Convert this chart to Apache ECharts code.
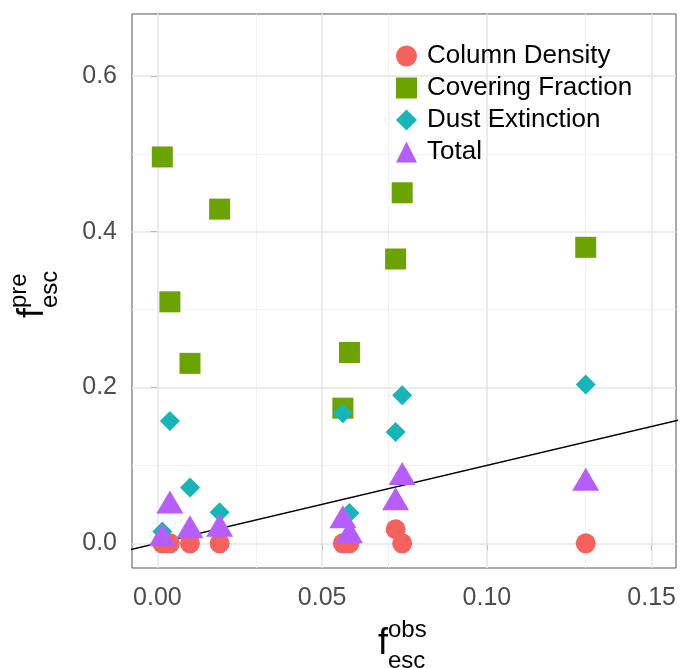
<!DOCTYPE html>
<html>
<head>
<meta charset="utf-8">
<title>f_esc predicted vs observed</title>
<script src="https://cdn.jsdelivr.net/npm/echarts@6/dist/echarts.min.js"></script>
<style>
  html, body { margin: 0; padding: 0; background: #fff; }
  #main { width: 690px; height: 668px; }
</style>
</head>
<body>
<div id="main"></div>
<script>
// observed escape fraction of each object (x)
var fObs = [0.0015, 0.0038, 0.0099, 0.0189, 0.0563, 0.0583, 0.0723, 0.0743, 0.1300];
// predicted escape fractions (y), one array per method
var colDensity  = [0, 0, 0, 0, 0, 0, 0.018, 0, 0];
var covFraction = [0.496, 0.310, 0.231, 0.429, 0.1735, 0.245, 0.365, 0.450, 0.380];
var dustExt     = [0.015, 0.157, 0.0716, 0.040, 0.167, 0.039, 0.143, 0.190, 0.204];
var total       = [0.006, 0.048, 0.016, 0.018, 0.029, 0.0096, 0.052, 0.0845, 0.077];

// 1:1 line
var oneToOne = [[-0.01, -0.01], [0.16, 0.16]];

var xTicks = [0, 0.05, 0.10, 0.15];
var xTickLabels = ['0.00', '0.05', '0.10', '0.15'];
var xMinor = [0.025, 0.075, 0.125];
var yTicks = [0, 0.2, 0.4, 0.6];
var yTickLabels = ['0.0', '0.2', '0.4', '0.6'];
var yMinor = [0.1, 0.3, 0.5];

var FONT = '"Liberation Sans", Arial, Helvetica, sans-serif';

function pairs(ys) {
    return fObs.map(function (x, i) { return [x, ys[i]]; });
}
function lookup(ticks, labels) {
    return function (v) {
        for (var i = 0; i < ticks.length; i++) {
            if (Math.abs(ticks[i] - v) < 1e-9) return labels[i];
        }
        return '';
    };
}

// grid lines as mark lines (major + minor)
var major = {type: 'solid', color: '#E6E6E6', width: 1.6};
var minor = {type: 'solid', color: '#F0F0F0', width: 0.9};
var gridLines = [];
xTicks.forEach(function (v) { gridLines.push({xAxis: v, lineStyle: major}); });
xMinor.forEach(function (v) { gridLines.push({xAxis: v, lineStyle: minor}); });
yTicks.forEach(function (v) { gridLines.push({yAxis: v, lineStyle: major}); });
yMinor.forEach(function (v) { gridLines.push({yAxis: v, lineStyle: minor}); });

// f with superscript and subscript, drawn around the group origin
function mathTitle(sup, sub) {
    return [
        {type: 'text', x: -26, y: 1, style: {text: 'f', fontFamily: FONT, fontSize: 36, fill: '#000', align: 'left', verticalAlign: 'middle'}},
        {type: 'text', x: -16, y: -13, style: {text: sup, fontFamily: FONT, fontSize: 24, fill: '#000', align: 'left', verticalAlign: 'middle'}},
        {type: 'text', x: -16, y: 18, style: {text: sub, fontFamily: FONT, fontSize: 24, fill: '#000', align: 'left', verticalAlign: 'middle'}}
    ];
}

var chart = echarts.init(document.getElementById('main'));

chart.setOption({
    animation: false,
    backgroundColor: '#fff',
    textStyle: {fontFamily: FONT},
    grid: {
        left: 132, top: 14, width: 544, height: 554,
        show: true, borderColor: '#555', borderWidth: 1, backgroundColor: '#fff'
    },
    legend: {
        orient: 'vertical',
        left: 396, top: 43,
        padding: 0,
        itemWidth: 21, itemHeight: 21,
        itemGap: 6,
        textStyle: {fontSize: 26, lineHeight: 21, color: '#000', fontFamily: FONT, padding: [0, 0, 0, 5]},
        data: ['Column Density', 'Covering Fraction', 'Dust Extinction', 'Total']
    },
    xAxis: {
        type: 'value',
        min: -0.0077, max: 0.1574,
        axisLine: {show: false},
        axisTick: {show: true, length: 7, customValues: xTicks, lineStyle: {color: '#333', width: 1}},
        axisLabel: {customValues: xTicks, margin: 18, fontSize: 25, color: '#4D4D4D', formatter: lookup(xTicks, xTickLabels)},
        splitLine: {show: false}
    },
    yAxis: {
        type: 'value',
        min: -0.0317, max: 0.6795,
        axisLine: {show: false},
        axisTick: {show: true, length: 7, customValues: yTicks, lineStyle: {color: '#333', width: 1}},
        axisLabel: {customValues: yTicks, margin: 15, fontSize: 25, color: '#4D4D4D', formatter: lookup(yTicks, yTickLabels)},
        splitLine: {show: false}
    },
    graphic: [
        {type: 'group', x: 404, y: 643, children: mathTitle('obs', 'esc')},
        {type: 'group', x: 32, y: 292, rotation: Math.PI / 2, children: mathTitle('pre', 'esc')}
    ],
    series: [
        {
            name: 'grid',
            type: 'line',
            data: [],
            z: 1,
            markLine: {
                z: 1,
                silent: true,
                symbol: 'none',
                label: {show: false},
                emphasis: {disabled: true},
                data: gridLines
            }
        },
        {
            name: '1:1',
            type: 'line',
            data: oneToOne,
            z: 2,
            showSymbol: false,
            clip: true,
            lineStyle: {color: '#000', width: 1.5},
            silent: true
        },
        {
            name: 'Column Density',
            type: 'scatter',
            z: 3,
            symbol: 'circle',
            symbolSize: 20,
            itemStyle: {color: '#F5625D', opacity: 1},
            data: pairs(colDensity)
        },
        {
            name: 'Covering Fraction',
            type: 'scatter',
            z: 3,
            symbol: 'rect',
            symbolSize: 21,
            itemStyle: {color: '#6BA300', opacity: 1},
            data: pairs(covFraction)
        },
        {
            name: 'Dust Extinction',
            type: 'scatter',
            z: 3,
            symbol: 'diamond',
            symbolSize: 20,
            itemStyle: {color: '#17B5B8', opacity: 1},
            data: pairs(dustExt)
        },
        {
            name: 'Total',
            type: 'scatter',
            z: 3,
            symbol: 'triangle',
            symbolSize: [27, 23],
            symbolOffset: [0, -4],
            itemStyle: {color: '#B65EFB', opacity: 1},
            data: pairs(total)
        }
    ]
});
</script>
</body>
</html>
